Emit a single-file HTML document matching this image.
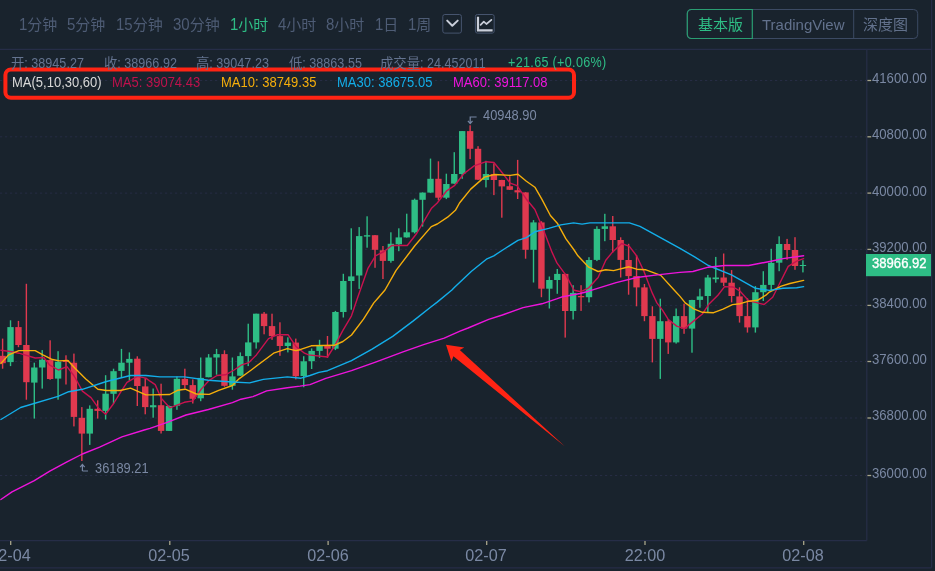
<!DOCTYPE html>
<html><head><meta charset="utf-8"><title>K-line</title>
<style>
html,body{margin:0;padding:0;background:#19232d;}
body{width:935px;height:571px;position:relative;overflow:hidden;font-family:"Liberation Sans","Noto Sans CJK SC",sans-serif;}
#chart{position:absolute;left:0;top:0;display:block}
.t{position:absolute;white-space:nowrap;will-change:transform;}
.dg{display:inline-block;transform:scaleY(1.12);transform-origin:50% 84%}
.tl{display:inline-block;transform:scaleY(1.09);transform-origin:50% 82%}
.cj{font-family:"Liberation Sans","Noto Sans CJK SC",sans-serif;}
</style></head><body>
<svg id="chart" width="935" height="571" viewBox="0 0 935 571"><g stroke="#262d47" stroke-width="1.2" fill="none"><line x1="0" y1="49.4" x2="931.6" y2="49.4"/><line x1="931.6" y1="0" x2="931.6" y2="567.8"/><line x1="0" y1="567.8" x2="931.6" y2="567.8"/><line x1="866.8" y1="49.4" x2="866.8" y2="540.6"/><line x1="0" y1="540.6" x2="866.8" y2="540.6"/></g><g stroke="#262c44" stroke-width="1" stroke-dasharray="2.2,2.8" fill="none"><line x1="0" y1="80.5" x2="866" y2="80.5"/><line x1="0" y1="136.8" x2="866" y2="136.8"/><line x1="0" y1="193.1" x2="866" y2="193.1"/><line x1="0" y1="249.4" x2="866" y2="249.4"/><line x1="0" y1="305.4" x2="866" y2="305.4"/><line x1="0" y1="361.5" x2="866" y2="361.5"/><line x1="0" y1="418.0" x2="866" y2="418.0"/><line x1="0" y1="475.5" x2="866" y2="475.5"/></g><g stroke="#a8a58a" stroke-width="1.3"><line x1="867.4" y1="80.5" x2="871.2" y2="80.5"/><line x1="867.4" y1="136.8" x2="871.2" y2="136.8"/><line x1="867.4" y1="193.1" x2="871.2" y2="193.1"/><line x1="867.4" y1="249.4" x2="871.2" y2="249.4"/><line x1="867.4" y1="305.4" x2="871.2" y2="305.4"/><line x1="867.4" y1="361.5" x2="871.2" y2="361.5"/><line x1="867.4" y1="418.0" x2="871.2" y2="418.0"/><line x1="867.4" y1="475.5" x2="871.2" y2="475.5"/><line x1="10.7" y1="541" x2="10.7" y2="545"/><line x1="169.8" y1="541" x2="169.8" y2="545"/><line x1="328.1" y1="541" x2="328.1" y2="545"/><line x1="486.7" y1="541" x2="486.7" y2="545"/><line x1="645.0" y1="541" x2="645.0" y2="545"/><line x1="803.7" y1="541" x2="803.7" y2="545"/></g><g><rect x="1.90" y="338.6" width="1.4" height="30.1" fill="#e0394f"/><rect x="-0.60" y="355.8" width="6.4" height="7.4" fill="#e0394f"/><rect x="9.82" y="320.3" width="1.4" height="45.8" fill="#2ebd85"/><rect x="7.32" y="327.1" width="6.4" height="35.0" fill="#2ebd85"/><rect x="17.75" y="320.9" width="1.4" height="26.3" fill="#e0394f"/><rect x="15.25" y="327.1" width="6.4" height="17.9" fill="#e0394f"/><rect x="25.67" y="283.8" width="1.4" height="115.9" fill="#e0394f"/><rect x="23.17" y="345.0" width="6.4" height="37.2" fill="#e0394f"/><rect x="33.60" y="362.7" width="1.4" height="55.9" fill="#2ebd85"/><rect x="31.10" y="367.5" width="6.4" height="15.1" fill="#2ebd85"/><rect x="41.52" y="350.1" width="1.4" height="38.5" fill="#2ebd85"/><rect x="39.02" y="359.7" width="6.4" height="7.8" fill="#2ebd85"/><rect x="49.44" y="340.3" width="1.4" height="39.5" fill="#e0394f"/><rect x="46.94" y="360.1" width="6.4" height="18.9" fill="#e0394f"/><rect x="57.37" y="351.2" width="1.4" height="48.5" fill="#2ebd85"/><rect x="54.87" y="361.8" width="6.4" height="16.8" fill="#2ebd85"/><rect x="65.29" y="355.3" width="1.4" height="29.2" fill="#e0394f"/><rect x="62.79" y="360.0" width="6.4" height="2.0" fill="#e0394f"/><rect x="73.22" y="353.6" width="1.4" height="72.8" fill="#e0394f"/><rect x="70.72" y="362.7" width="6.4" height="54.2" fill="#e0394f"/><rect x="81.14" y="407.1" width="1.4" height="53.9" fill="#e0394f"/><rect x="78.64" y="417.8" width="6.4" height="15.8" fill="#e0394f"/><rect x="89.06" y="405.4" width="1.4" height="39.5" fill="#2ebd85"/><rect x="86.56" y="408.8" width="6.4" height="24.8" fill="#2ebd85"/><rect x="96.99" y="400.3" width="1.4" height="18.3" fill="#e0394f"/><rect x="94.49" y="408.8" width="6.4" height="2.1" fill="#e0394f"/><rect x="104.91" y="375.2" width="1.4" height="44.3" fill="#2ebd85"/><rect x="102.41" y="393.7" width="6.4" height="17.2" fill="#2ebd85"/><rect x="112.84" y="368.7" width="1.4" height="35.3" fill="#2ebd85"/><rect x="110.34" y="371.2" width="6.4" height="22.6" fill="#2ebd85"/><rect x="120.76" y="348.9" width="1.4" height="28.4" fill="#2ebd85"/><rect x="118.26" y="362.7" width="6.4" height="8.2" fill="#2ebd85"/><rect x="128.68" y="352.4" width="1.4" height="28.3" fill="#2ebd85"/><rect x="126.18" y="358.9" width="6.4" height="3.8" fill="#2ebd85"/><rect x="136.61" y="356.3" width="1.4" height="49.7" fill="#e0394f"/><rect x="134.11" y="358.7" width="6.4" height="27.3" fill="#e0394f"/><rect x="144.53" y="378.1" width="1.4" height="36.2" fill="#e0394f"/><rect x="142.03" y="386.4" width="6.4" height="20.7" fill="#e0394f"/><rect x="152.46" y="388.5" width="1.4" height="29.2" fill="#2ebd85"/><rect x="149.96" y="405.2" width="6.4" height="2.1" fill="#2ebd85"/><rect x="160.38" y="383.7" width="1.4" height="49.8" fill="#e0394f"/><rect x="157.88" y="405.2" width="6.4" height="25.7" fill="#e0394f"/><rect x="168.30" y="405.5" width="1.4" height="25.5" fill="#2ebd85"/><rect x="165.80" y="406.0" width="6.4" height="24.9" fill="#2ebd85"/><rect x="176.23" y="376.5" width="1.4" height="33.3" fill="#2ebd85"/><rect x="173.73" y="378.8" width="6.4" height="26.9" fill="#2ebd85"/><rect x="184.15" y="368.7" width="1.4" height="19.8" fill="#e0394f"/><rect x="181.65" y="378.9" width="6.4" height="6.2" fill="#e0394f"/><rect x="192.08" y="379.4" width="1.4" height="24.1" fill="#e0394f"/><rect x="189.58" y="385.1" width="6.4" height="13.7" fill="#e0394f"/><rect x="200.00" y="357.5" width="1.4" height="43.7" fill="#2ebd85"/><rect x="197.50" y="377.9" width="6.4" height="20.4" fill="#2ebd85"/><rect x="207.92" y="354.1" width="1.4" height="23.2" fill="#2ebd85"/><rect x="205.42" y="357.5" width="6.4" height="19.7" fill="#2ebd85"/><rect x="215.85" y="348.9" width="1.4" height="25.8" fill="#2ebd85"/><rect x="213.35" y="354.1" width="6.4" height="3.4" fill="#2ebd85"/><rect x="223.77" y="350.3" width="1.4" height="36.4" fill="#e0394f"/><rect x="221.27" y="354.1" width="6.4" height="31.7" fill="#e0394f"/><rect x="231.70" y="357.5" width="1.4" height="32.2" fill="#2ebd85"/><rect x="229.20" y="376.4" width="6.4" height="9.4" fill="#2ebd85"/><rect x="239.62" y="352.4" width="1.4" height="23.5" fill="#2ebd85"/><rect x="237.12" y="356.1" width="6.4" height="19.6" fill="#2ebd85"/><rect x="247.54" y="323.7" width="1.4" height="42.4" fill="#2ebd85"/><rect x="245.04" y="342.4" width="6.4" height="13.7" fill="#2ebd85"/><rect x="255.47" y="313.7" width="1.4" height="34.9" fill="#2ebd85"/><rect x="252.97" y="313.7" width="6.4" height="28.7" fill="#2ebd85"/><rect x="263.39" y="312.0" width="1.4" height="22.3" fill="#e0394f"/><rect x="260.89" y="313.7" width="6.4" height="12.4" fill="#e0394f"/><rect x="271.32" y="313.7" width="1.4" height="26.1" fill="#e0394f"/><rect x="268.82" y="326.1" width="6.4" height="10.0" fill="#e0394f"/><rect x="279.24" y="322.3" width="1.4" height="33.5" fill="#e0394f"/><rect x="276.74" y="336.1" width="6.4" height="9.9" fill="#e0394f"/><rect x="287.16" y="337.3" width="1.4" height="15.1" fill="#2ebd85"/><rect x="284.66" y="342.6" width="6.4" height="3.4" fill="#2ebd85"/><rect x="295.09" y="338.6" width="1.4" height="40.8" fill="#e0394f"/><rect x="292.59" y="342.6" width="6.4" height="33.6" fill="#e0394f"/><rect x="303.01" y="356.2" width="1.4" height="31.0" fill="#2ebd85"/><rect x="300.51" y="361.3" width="6.4" height="14.7" fill="#2ebd85"/><rect x="310.94" y="348.4" width="1.4" height="20.6" fill="#2ebd85"/><rect x="308.44" y="350.9" width="6.4" height="10.3" fill="#2ebd85"/><rect x="318.86" y="339.8" width="1.4" height="18.0" fill="#2ebd85"/><rect x="316.36" y="345.8" width="6.4" height="5.1" fill="#2ebd85"/><rect x="326.78" y="336.0" width="1.4" height="21.8" fill="#e0394f"/><rect x="324.28" y="345.8" width="6.4" height="2.9" fill="#e0394f"/><rect x="334.71" y="310.9" width="1.4" height="39.2" fill="#2ebd85"/><rect x="332.21" y="312.0" width="6.4" height="36.7" fill="#2ebd85"/><rect x="342.63" y="273.8" width="1.4" height="43.7" fill="#2ebd85"/><rect x="340.13" y="281.0" width="6.4" height="31.0" fill="#2ebd85"/><rect x="350.56" y="228.3" width="1.4" height="81.4" fill="#2ebd85"/><rect x="348.06" y="276.4" width="6.4" height="4.6" fill="#2ebd85"/><rect x="358.48" y="227.1" width="1.4" height="61.8" fill="#2ebd85"/><rect x="355.98" y="236.1" width="6.4" height="39.4" fill="#2ebd85"/><rect x="366.40" y="216.3" width="1.4" height="31.4" fill="#2ebd85"/><rect x="363.90" y="235.2" width="6.4" height="1.4" fill="#2ebd85"/><rect x="374.33" y="235.0" width="1.4" height="32.8" fill="#e0394f"/><rect x="371.83" y="235.2" width="6.4" height="14.6" fill="#e0394f"/><rect x="382.25" y="246.0" width="1.4" height="33.0" fill="#e0394f"/><rect x="379.75" y="250.3" width="6.4" height="10.6" fill="#e0394f"/><rect x="390.18" y="232.3" width="1.4" height="30.4" fill="#2ebd85"/><rect x="387.68" y="243.8" width="6.4" height="17.1" fill="#2ebd85"/><rect x="398.10" y="228.3" width="1.4" height="22.9" fill="#2ebd85"/><rect x="395.60" y="237.4" width="6.4" height="6.9" fill="#2ebd85"/><rect x="406.02" y="213.7" width="1.4" height="23.9" fill="#2ebd85"/><rect x="403.52" y="232.3" width="6.4" height="5.1" fill="#2ebd85"/><rect x="413.95" y="198.6" width="1.4" height="34.9" fill="#2ebd85"/><rect x="411.45" y="199.8" width="6.4" height="32.5" fill="#2ebd85"/><rect x="421.87" y="192.4" width="1.4" height="34.2" fill="#2ebd85"/><rect x="419.37" y="192.6" width="6.4" height="7.2" fill="#2ebd85"/><rect x="429.80" y="158.6" width="1.4" height="34.2" fill="#2ebd85"/><rect x="427.30" y="178.8" width="6.4" height="13.8" fill="#2ebd85"/><rect x="437.72" y="161.3" width="1.4" height="39.0" fill="#e0394f"/><rect x="435.22" y="178.8" width="6.4" height="18.9" fill="#e0394f"/><rect x="445.64" y="173.7" width="1.4" height="25.4" fill="#2ebd85"/><rect x="443.14" y="184.0" width="6.4" height="13.7" fill="#2ebd85"/><rect x="453.57" y="152.2" width="1.4" height="31.6" fill="#2ebd85"/><rect x="451.07" y="174.0" width="6.4" height="9.6" fill="#2ebd85"/><rect x="461.49" y="131.0" width="1.4" height="47.8" fill="#2ebd85"/><rect x="458.99" y="131.1" width="6.4" height="42.9" fill="#2ebd85"/><rect x="469.42" y="125.3" width="1.4" height="33.8" fill="#e0394f"/><rect x="466.92" y="131.1" width="6.4" height="17.7" fill="#e0394f"/><rect x="477.34" y="146.2" width="1.4" height="33.7" fill="#e0394f"/><rect x="474.84" y="148.8" width="6.4" height="30.9" fill="#e0394f"/><rect x="485.26" y="160.8" width="1.4" height="26.6" fill="#2ebd85"/><rect x="482.76" y="174.0" width="6.4" height="6.0" fill="#2ebd85"/><rect x="493.19" y="163.4" width="1.4" height="31.7" fill="#e0394f"/><rect x="490.69" y="174.0" width="6.4" height="6.0" fill="#e0394f"/><rect x="501.11" y="179.8" width="1.4" height="37.9" fill="#e0394f"/><rect x="498.61" y="180.0" width="6.4" height="6.4" fill="#e0394f"/><rect x="509.04" y="176.2" width="1.4" height="13.8" fill="#e0394f"/><rect x="506.54" y="186.2" width="6.4" height="3.6" fill="#e0394f"/><rect x="516.96" y="159.9" width="1.4" height="39.1" fill="#e0394f"/><rect x="514.46" y="190.2" width="6.4" height="2.2" fill="#e0394f"/><rect x="524.88" y="192.2" width="1.4" height="66.5" fill="#e0394f"/><rect x="522.38" y="192.4" width="6.4" height="57.4" fill="#e0394f"/><rect x="532.81" y="220.1" width="1.4" height="62.4" fill="#2ebd85"/><rect x="530.31" y="222.4" width="6.4" height="27.4" fill="#2ebd85"/><rect x="540.73" y="221.2" width="1.4" height="76.0" fill="#e0394f"/><rect x="538.23" y="222.4" width="6.4" height="66.3" fill="#e0394f"/><rect x="548.66" y="276.5" width="1.4" height="32.0" fill="#2ebd85"/><rect x="546.16" y="280.0" width="6.4" height="8.7" fill="#2ebd85"/><rect x="556.58" y="269.0" width="1.4" height="24.8" fill="#2ebd85"/><rect x="554.08" y="273.9" width="6.4" height="6.1" fill="#2ebd85"/><rect x="564.50" y="273.7" width="1.4" height="63.9" fill="#e0394f"/><rect x="562.00" y="273.9" width="6.4" height="37.1" fill="#e0394f"/><rect x="572.43" y="285.2" width="1.4" height="34.3" fill="#2ebd85"/><rect x="569.93" y="292.9" width="6.4" height="18.1" fill="#2ebd85"/><rect x="580.35" y="285.2" width="1.4" height="25.7" fill="#e0394f"/><rect x="577.85" y="296.0" width="6.4" height="1.3" fill="#e0394f"/><rect x="588.28" y="257.2" width="1.4" height="45.2" fill="#2ebd85"/><rect x="585.78" y="260.0" width="6.4" height="37.2" fill="#2ebd85"/><rect x="596.20" y="226.3" width="1.4" height="34.8" fill="#2ebd85"/><rect x="593.70" y="228.9" width="6.4" height="31.0" fill="#2ebd85"/><rect x="604.12" y="213.8" width="1.4" height="27.4" fill="#2ebd85"/><rect x="601.62" y="226.3" width="6.4" height="2.6" fill="#2ebd85"/><rect x="612.05" y="216.0" width="1.4" height="36.4" fill="#e0394f"/><rect x="609.55" y="226.3" width="6.4" height="13.7" fill="#e0394f"/><rect x="619.97" y="237.3" width="1.4" height="40.2" fill="#e0394f"/><rect x="617.47" y="240.0" width="6.4" height="19.9" fill="#e0394f"/><rect x="627.90" y="243.8" width="1.4" height="50.9" fill="#e0394f"/><rect x="625.40" y="260.0" width="6.4" height="16.1" fill="#e0394f"/><rect x="635.82" y="255.1" width="1.4" height="51.2" fill="#e0394f"/><rect x="633.32" y="276.1" width="6.4" height="11.3" fill="#e0394f"/><rect x="643.74" y="284.0" width="1.4" height="37.2" fill="#e0394f"/><rect x="641.24" y="287.4" width="6.4" height="28.7" fill="#e0394f"/><rect x="651.67" y="306.3" width="1.4" height="56.1" fill="#e0394f"/><rect x="649.17" y="316.1" width="6.4" height="22.8" fill="#e0394f"/><rect x="659.59" y="298.7" width="1.4" height="80.2" fill="#2ebd85"/><rect x="657.09" y="321.2" width="6.4" height="17.7" fill="#2ebd85"/><rect x="667.52" y="319.2" width="1.4" height="34.7" fill="#e0394f"/><rect x="665.02" y="321.2" width="6.4" height="21.2" fill="#e0394f"/><rect x="675.44" y="308.5" width="1.4" height="35.1" fill="#2ebd85"/><rect x="672.94" y="316.1" width="6.4" height="26.3" fill="#2ebd85"/><rect x="683.36" y="303.7" width="1.4" height="30.1" fill="#e0394f"/><rect x="680.86" y="316.1" width="6.4" height="12.5" fill="#e0394f"/><rect x="691.29" y="299.8" width="1.4" height="52.9" fill="#2ebd85"/><rect x="688.79" y="300.0" width="6.4" height="28.6" fill="#2ebd85"/><rect x="699.21" y="288.7" width="1.4" height="19.0" fill="#2ebd85"/><rect x="696.71" y="296.4" width="6.4" height="3.5" fill="#2ebd85"/><rect x="707.14" y="274.9" width="1.4" height="37.1" fill="#2ebd85"/><rect x="704.64" y="277.5" width="6.4" height="18.5" fill="#2ebd85"/><rect x="715.06" y="256.9" width="1.4" height="25.8" fill="#2ebd85"/><rect x="712.56" y="277.5" width="6.4" height="1.7" fill="#2ebd85"/><rect x="722.98" y="253.5" width="1.4" height="32.6" fill="#e0394f"/><rect x="720.48" y="277.5" width="6.4" height="5.2" fill="#e0394f"/><rect x="730.91" y="270.1" width="1.4" height="32.3" fill="#e0394f"/><rect x="728.41" y="282.7" width="6.4" height="13.3" fill="#e0394f"/><rect x="738.83" y="287.3" width="1.4" height="35.3" fill="#e0394f"/><rect x="736.33" y="296.4" width="6.4" height="19.7" fill="#e0394f"/><rect x="746.76" y="298.3" width="1.4" height="34.3" fill="#e0394f"/><rect x="744.26" y="316.1" width="6.4" height="11.3" fill="#e0394f"/><rect x="754.68" y="286.1" width="1.4" height="46.5" fill="#2ebd85"/><rect x="752.18" y="292.2" width="6.4" height="35.2" fill="#2ebd85"/><rect x="762.60" y="271.2" width="1.4" height="29.8" fill="#2ebd85"/><rect x="760.10" y="284.9" width="6.4" height="7.3" fill="#2ebd85"/><rect x="770.53" y="248.8" width="1.4" height="41.6" fill="#2ebd85"/><rect x="768.03" y="262.9" width="6.4" height="22.0" fill="#2ebd85"/><rect x="778.45" y="236.3" width="1.4" height="34.9" fill="#2ebd85"/><rect x="775.95" y="244.0" width="6.4" height="18.7" fill="#2ebd85"/><rect x="786.38" y="238.9" width="1.4" height="20.9" fill="#e0394f"/><rect x="783.88" y="244.0" width="6.4" height="6.0" fill="#e0394f"/><rect x="794.30" y="237.2" width="1.4" height="32.6" fill="#e0394f"/><rect x="791.80" y="250.0" width="6.4" height="16.0" fill="#e0394f"/><rect x="802.22" y="260.3" width="1.4" height="12.1" fill="#2ebd85"/><rect x="799.72" y="265.0" width="6.4" height="1.0" fill="#2ebd85"/></g><g fill="none" stroke-width="1.4" stroke-linejoin="round" stroke-linecap="round"><polyline stroke="#c9124f" points="0.9,350.3 10.3,351.5 18.9,353.2 35.2,358.0 43.8,357.5 49.8,365.2 58.4,370.0 67.0,366.6 73.8,375.5 76.4,380.0 82.4,391.1 91.0,397.6 98.7,408.3 105.6,414.3 113.3,404.0 120.2,392.9 127.0,382.4 137.3,376.4 145.9,378.1 150.0,381.2 155.2,384.6 161.2,398.3 169.7,407.8 184.3,402.3 192.9,400.9 201.5,388.9 209.2,380.3 217.0,375.5 225.5,374.8 234.1,370.0 241.0,365.2 248.7,362.7 256.4,354.9 268.5,338.6 277.0,334.8 288.2,334.8 295.9,346.4 304.5,353.2 308.6,354.9 327.5,357.0 335.2,344.9 342.9,330.3 351.5,315.8 357.5,298.0 367.8,268.7 375.5,255.8 384.1,251.5 391.8,245.5 407.3,245.5 416.7,233.5 431.3,208.6 437.2,203.0 446.7,190.8 454.4,185.7 463.8,173.7 474.1,165.9 486.1,161.7 493.9,162.5 501.6,172.0 510.2,183.1 517.0,185.7 526.4,199.2 534.9,209.5 543.5,230.1 552.1,252.4 556.9,262.9 566.4,275.8 574.1,290.3 580.9,291.7 588.7,287.8 598.1,277.5 605.8,260.3 612.2,252.4 621.6,243.5 629.4,246.4 636.7,256.0 643.6,270.6 652.2,292.9 656.9,302.9 662.5,310.1 668.1,319.2 676.7,326.1 684.4,328.6 693.8,320.9 702.4,314.0 709.3,303.7 717.9,295.2 724.6,286.6 733.2,287.0 740.1,291.2 748.7,300.7 755.5,302.4 764.1,304.5 772.7,297.3 779.6,283.5 788.2,266.4 796.7,261.2 803.6,258.6"/><polyline stroke="#f5ae0b" points="0.9,363.5 8.6,354.9 18.9,350.6 35.2,350.6 42.9,354.9 51.5,359.2 59.2,360.9 67.8,360.4 75.5,368.7 85.8,379.0 97.9,389.3 106.4,390.5 120.2,390.5 130.5,388.1 145.9,394.9 150.0,394.9 169.7,394.5 177.5,390.3 185.2,389.2 196.4,394.0 209.2,394.4 218.7,390.3 232.4,385.5 239.3,378.6 246.1,373.8 251.3,370.0 273.6,353.2 287.3,348.6 295.9,350.6 300.0,349.7 311.2,345.8 334.3,345.3 342.9,341.5 351.5,335.0 363.5,319.2 373.8,302.9 378.1,298.0 385.0,290.0 396.1,270.4 415.0,245.5 431.3,226.6 437.3,224.0 447.6,217.2 455.4,210.3 459.5,203.0 470.7,189.1 484.4,177.1 494.7,174.5 510.2,175.4 517.9,174.2 526.4,181.2 534.9,187.2 541.8,199.2 550.4,215.5 557.3,223.2 565.8,238.7 574.1,250.0 577.9,255.8 588.7,267.2 598.1,271.5 605.8,269.7 613.6,270.6 629.0,266.8 636.7,269.2 645.3,269.7 660.8,275.4 674.1,290.0 680.0,296.4 685.2,302.9 693.8,308.9 702.4,312.3 713.6,312.7 723.0,309.2 732.4,304.6 740.2,303.7 748.8,301.2 757.3,300.3 765.9,295.2 769.3,292.1 781.3,286.1 789.9,283.5 803.6,280.4"/><polyline stroke="#13aeea" points="0.9,419.5 20.6,407.5 58.0,396.3 68.7,391.7 82.4,389.3 106.4,381.5 130.5,375.5 145.9,375.5 160.0,376.9 184.3,376.9 208.4,380.3 232.4,382.0 249.6,382.9 263.3,379.4 287.3,376.9 301.0,378.2 310.0,375.5 318.9,372.4 327.5,370.7 351.5,360.7 372.1,349.2 392.7,336.4 413.3,320.9 430.5,307.2 437.2,302.1 451.9,290.0 454.3,287.5 471.5,271.2 487.0,258.8 493.8,255.8 505.8,248.0 517.9,240.3 526.4,237.7 534.9,231.8 548.7,228.4 560.7,224.9 573.6,222.9 582.1,224.1 589.9,222.9 629.4,222.9 640.0,226.3 680.0,248.3 694.6,256.9 708.3,265.5 731.5,274.9 755.5,288.3 769.3,290.4 783.0,288.3 796.7,287.8 803.6,286.6"/><polyline stroke="#ee14dc" points="0.9,499.5 12.0,491.8 34.3,480.6 49.8,471.2 67.0,461.8 82.4,454.0 99.6,447.2 121.9,436.9 144.2,430.0 150.0,428.4 167.2,422.4 186.0,415.0 208.4,409.5 232.4,402.6 241.0,399.2 253.0,396.6 266.7,390.9 287.3,387.7 300.0,386.1 310.0,384.6 325.8,378.4 351.5,370.7 375.5,362.1 403.0,351.8 423.6,344.6 444.2,338.1 460.0,331.2 468.1,328.0 488.7,319.3 502.4,315.0 523.0,307.6 541.9,303.8 557.3,298.7 562.9,296.7 580.0,293.5 588.7,291.2 616.1,282.6 636.7,277.5 657.3,274.9 680.0,272.4 692.9,271.5 708.3,267.2 724.6,265.5 748.7,265.5 771.0,261.2 783.0,258.6 803.6,255.7"/></g><polygon fill="#ff2414" points="446,344.7 464.3,347.6 459.8,350 565,446.5 453.4,356.2 451.4,361.4"/><rect x="5.4" y="69.6" width="568.6" height="28.2" rx="5.5" ry="5.5" fill="none" stroke="#ff2414" stroke-width="4"/><g fill="none" stroke="#7686a4" stroke-width="1.2"><path d="M82.4 471 V464.6 M80.1 467.2 L82.4 464.4 L84.7 467.2 M82.4 471 H88"/><path d="M470.2 123.4 V117 H476.6 M467.9 120.8 L470.2 123.6 L472.5 120.8"/></g><rect x="866" y="254" width="65" height="22.2" fill="#2ebd85"/><g fill="none" stroke="#46546e" stroke-width="1"><rect x="442.8" y="14.5" width="18.6" height="18.6" rx="2"/><rect x="475.4" y="14.5" width="18.8" height="18.6" rx="2"/></g><g fill="none" stroke="#c9ced9" stroke-linecap="round" stroke-linejoin="round"><path stroke-width="2" d="M447.2 20.6 L452.3 25.8 L457.7 20.6"/><path stroke-width="2.2" stroke-linecap="butt" stroke-linejoin="miter" d="M478 16.8 V30.4 H492.6"/><path stroke-width="1.7" d="M480.6 24.8 L483.8 21.6 L486.4 24 L491.4 19.8"/></g><g fill="none" stroke-width="1"><rect x="687.3" y="9.5" width="230.4" height="29" rx="4" stroke="#3c4a63"/><line x1="853.7" y1="9.5" x2="853.7" y2="38.5" stroke="#3c4a63"/><path d="M752.3 9.5 H691.3 a4 4 0 0 0 -4 4 V34.5 a4 4 0 0 0 4 4 H752.3 Z" stroke="#2a9d72" stroke-width="1.2"/></g></svg>
<div class="t " style="left:19.3px;top:16.10px;font-size:15px;line-height:18.00px;color:#4e5c75;font-weight:normal"><span class="dg">1</span><span class="cj">分钟</span></div><div class="t " style="left:67.3px;top:16.10px;font-size:15px;line-height:18.00px;color:#4e5c75;font-weight:normal"><span class="dg">5</span><span class="cj">分钟</span></div><div class="t " style="left:115.8px;top:16.10px;font-size:15px;line-height:18.00px;color:#4e5c75;font-weight:normal"><span class="dg">15</span><span class="cj">分钟</span></div><div class="t " style="left:172.6px;top:16.10px;font-size:15px;line-height:18.00px;color:#4e5c75;font-weight:normal"><span class="dg">30</span><span class="cj">分钟</span></div><div class="t " style="left:230px;top:16.10px;font-size:15px;line-height:18.00px;color:#2ebd85;font-weight:normal"><span class="dg">1</span><span class="cj">小时</span></div><div class="t " style="left:277.8px;top:16.10px;font-size:15px;line-height:18.00px;color:#4e5c75;font-weight:normal"><span class="dg">4</span><span class="cj">小时</span></div><div class="t " style="left:326px;top:16.10px;font-size:15px;line-height:18.00px;color:#4e5c75;font-weight:normal"><span class="dg">8</span><span class="cj">小时</span></div><div class="t " style="left:374.8px;top:16.10px;font-size:15px;line-height:18.00px;color:#4e5c75;font-weight:normal"><span class="dg">1</span><span class="cj">日</span></div><div class="t " style="left:408.4px;top:16.10px;font-size:15px;line-height:18.00px;color:#4e5c75;font-weight:normal"><span class="dg">1</span><span class="cj">周</span></div><div class="t " style="left:697.6px;top:16.40px;font-size:15px;line-height:18.00px;color:#2ebd85;font-weight:normal"><span class="cj">基本版</span></div><div class="t " style="left:761.8px;top:16.10px;font-size:15px;line-height:18.00px;color:#62718c;font-weight:normal">TradingView</div><div class="t " style="left:863px;top:16.40px;font-size:15px;line-height:18.00px;color:#62718c;font-weight:normal"><span class="cj">深度图</span></div><div class="t " style="left:10.7px;top:56.14px;font-size:12.6px;line-height:15.12px;color:#64738f;font-weight:normal"><span class="cj" style="font-size:13.36px">开</span><span class="tl">: 38945.27</span></div><div class="t " style="left:103.5px;top:56.14px;font-size:12.6px;line-height:15.12px;color:#64738f;font-weight:normal"><span class="cj" style="font-size:13.36px">收</span><span class="tl">: 38966.92</span></div><div class="t " style="left:195.9px;top:56.14px;font-size:12.6px;line-height:15.12px;color:#64738f;font-weight:normal"><span class="cj" style="font-size:13.36px">高</span><span class="tl">: 39047.23</span></div><div class="t " style="left:288.7px;top:56.14px;font-size:12.6px;line-height:15.12px;color:#64738f;font-weight:normal"><span class="cj" style="font-size:13.36px">低</span><span class="tl">: 38863.55</span></div><div class="t " style="left:380.2px;top:56.14px;font-size:12.6px;line-height:15.12px;color:#64738f;font-weight:normal"><span class="cj" style="font-size:13.36px">成交量</span><span class="tl">: 24.452011</span></div><div class="t " style="left:507.8px;top:56.14px;font-size:12.6px;line-height:15.12px;color:#2ebd85;font-weight:normal"><span class="tl" style="letter-spacing:0.32px">+21.65 (+0.06%)</span></div><div class="t " style="left:11.6px;top:74.90px;font-size:13px;line-height:15.60px;color:#d9d9d9;font-weight:normal"><span class="tl">MA(5,10,30,60)</span></div><div class="t " style="left:111.6px;top:74.90px;font-size:13px;line-height:15.60px;color:#bd124c;font-weight:normal"><span class="tl">MA5: 39074.43</span></div><div class="t " style="left:221px;top:74.90px;font-size:13px;line-height:15.60px;color:#f5ae0b;font-weight:normal"><span class="tl">MA10: 38749.35</span></div><div class="t " style="left:336.8px;top:74.90px;font-size:13px;line-height:15.60px;color:#13aeea;font-weight:normal"><span class="tl">MA30: 38675.05</span></div><div class="t " style="left:452.9px;top:74.90px;font-size:13px;line-height:15.60px;color:#ee14dc;font-weight:normal"><span class="tl">MA60: 39117.08</span></div><div class="t " style="left:871.8px;top:70.91px;font-size:13.15px;line-height:15.78px;color:#7a88a3;font-weight:normal"><span class="tl">41600.00</span></div><div class="t " style="left:871.8px;top:127.21px;font-size:13.15px;line-height:15.78px;color:#7a88a3;font-weight:normal"><span class="tl">40800.00</span></div><div class="t " style="left:871.8px;top:183.51px;font-size:13.15px;line-height:15.78px;color:#7a88a3;font-weight:normal"><span class="tl">40000.00</span></div><div class="t " style="left:871.8px;top:239.81px;font-size:13.15px;line-height:15.78px;color:#7a88a3;font-weight:normal"><span class="tl">39200.00</span></div><div class="t " style="left:871.8px;top:295.81px;font-size:13.15px;line-height:15.78px;color:#7a88a3;font-weight:normal"><span class="tl">38400.00</span></div><div class="t " style="left:871.8px;top:351.91px;font-size:13.15px;line-height:15.78px;color:#7a88a3;font-weight:normal"><span class="tl">37600.00</span></div><div class="t " style="left:871.8px;top:408.41px;font-size:13.15px;line-height:15.78px;color:#7a88a3;font-weight:normal"><span class="tl">36800.00</span></div><div class="t " style="left:871.8px;top:465.91px;font-size:13.15px;line-height:15.78px;color:#7a88a3;font-weight:normal"><span class="tl">36000.00</span></div><div class="t tag" style="left:872.0px;top:256.04px;font-size:13.1px;line-height:15.72px;color:#ffffff;font-weight:normal"><span class="tl" style="-webkit-text-stroke:0.3px #fff">38966.92</span></div><div class="t xl" style="left:-19.8px;top:546.48px;width:60px;text-align:center;font-size:16.2px;line-height:19.44px;color:#7a88a3">02-04</div><div class="t xl" style="left:139.3px;top:546.48px;width:60px;text-align:center;font-size:16.2px;line-height:19.44px;color:#7a88a3">02-05</div><div class="t xl" style="left:297.6px;top:546.48px;width:60px;text-align:center;font-size:16.2px;line-height:19.44px;color:#7a88a3">02-06</div><div class="t xl" style="left:456.2px;top:546.48px;width:60px;text-align:center;font-size:16.2px;line-height:19.44px;color:#7a88a3">02-07</div><div class="t xl" style="left:614.5px;top:546.48px;width:60px;text-align:center;font-size:16.2px;line-height:19.44px;color:#7a88a3">22:00</div><div class="t xl" style="left:773.2px;top:546.48px;width:60px;text-align:center;font-size:16.2px;line-height:19.44px;color:#7a88a3">02-08</div><div class="t " style="left:482.9px;top:108.19px;font-size:12.85px;line-height:15.42px;color:#7a88a3;font-weight:normal"><span class="tl">40948.90</span></div><div class="t " style="left:95.3px;top:461.29px;font-size:12.85px;line-height:15.42px;color:#7a88a3;font-weight:normal"><span class="tl">36189.21</span></div>
</body></html>
